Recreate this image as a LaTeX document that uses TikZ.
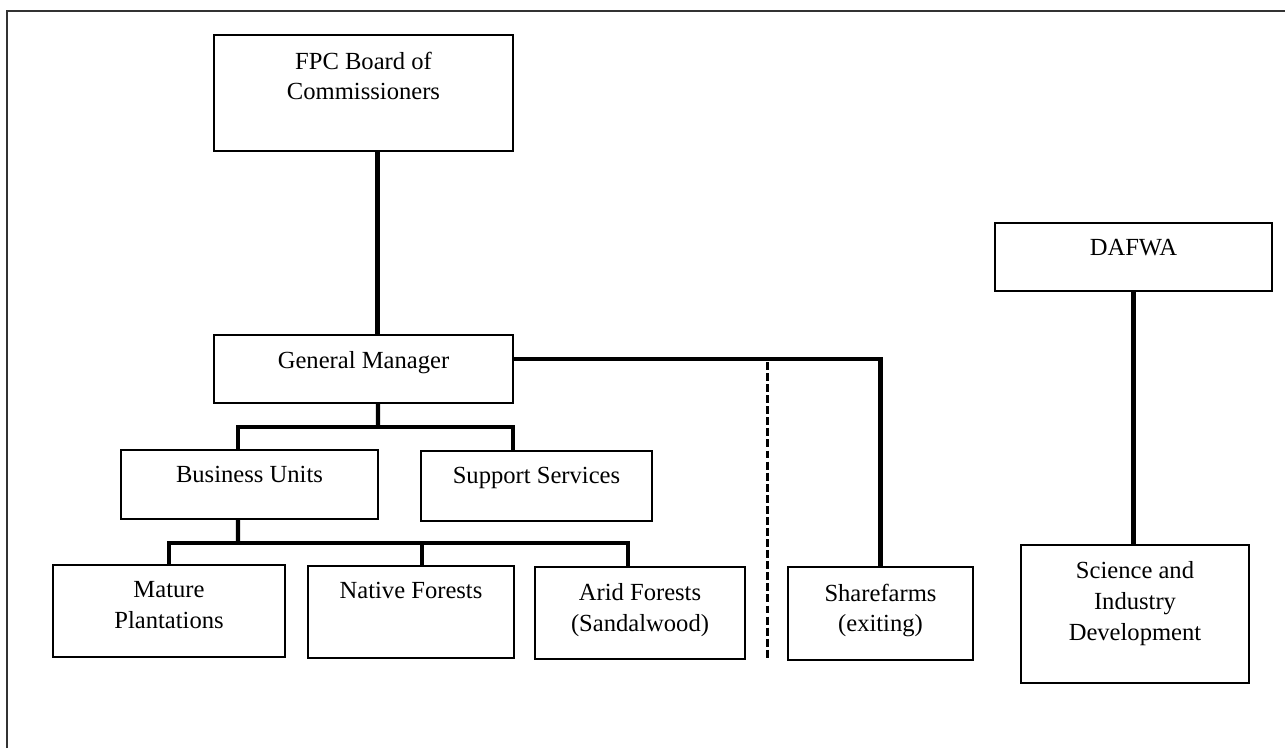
\documentclass[tikz,border=0pt]{standalone}
\usepackage{fontspec}
\setmainfont{Liberation Serif}

\begin{document}
\begin{tikzpicture}[x=0.02cm,y=-0.02cm,
  font=\fontsize{14}{17.6}\selectfont,
  unit/.style={draw,line width=1.4pt,inner sep=0pt,
    label={[anchor=north,yshift=-10pt,inner sep=0pt,align=center]north:{#1}}},
  link/.style={line width=2.4pt},
  splitline/.style={line width=1.7pt,dash pattern=on 4.5pt off 1.8pt},
  frame/.style={line width=1pt,black!80}]
\useasboundingbox (0,0) rectangle (1285,748);

% page frame
\draw[frame] (7,748) -- (7,11) -- (1285,11);

% boxes
\node[unit={FPC Board of\\Commissioners},minimum width=5.98cm,minimum height=2.32cm] (fpc) at (363.5,93) {};
\node[unit={General Manager},minimum width=5.98cm,minimum height=1.36cm] (gm) at (363.5,369) {};
\node[unit={Business Units},minimum width=5.14cm,minimum height=1.38cm] (bu) at (249.5,484.5) {};
\node[unit={Support Services},minimum width=4.62cm,minimum height=1.40cm] (ss) at (536.5,486) {};
\node[unit={Mature\\Plantations},minimum width=4.64cm,minimum height=1.84cm] (mp) at (169,611) {};
\node[unit={Native Forests},minimum width=4.12cm,minimum height=1.84cm] (nf) at (411,612) {};
\node[unit={Arid Forests\\(Sandalwood)},minimum width=4.20cm,minimum height=1.84cm] (af) at (640,613) {};
\node[unit={Sharefarms\\(exiting)},minimum width=3.70cm,minimum height=1.86cm] (sf) at (880.5,613.5) {};
\node[unit={DAFWA},minimum width=5.54cm,minimum height=1.36cm] (dafwa) at (1133.5,257) {};
\node[unit={Science and\\Industry\\Development},minimum width=4.56cm,minimum height=2.76cm] (sid) at (1135,614) {};

% connectors
\draw[link] ([xshift=0.28cm]fpc.south) -- ([xshift=0.28cm]gm.north);

\coordinate (gmbar) at (378,427);
\draw[link] ([xshift=0.29cm]gm.south) -- (gmbar);
\draw[link] ([xshift=-0.23cm]bu.north) |- (gmbar) -| ([xshift=-0.47cm]ss.north);

\coordinate (bubar) at (238,543);
\draw[link] ([xshift=-0.23cm]bu.south) -- (bubar);
\draw[link] (mp.north) |- (bubar) -| ([xshift=-0.24cm]af.north);
\draw[link] ([xshift=0.22cm]nf.north) -- ([xshift=0.22cm]nf.north |- bubar);

\draw[link] ([yshift=0.2cm]gm.east) -| (sf.north);

\coordinate (cuttop) at (767,362);
\coordinate (cutbot) at (767,660);
\draw[splitline] (cuttop) -- (cutbot);

\draw[link] (dafwa.south) -- (sid.north -| dafwa.south);
\end{tikzpicture}
\end{document}
